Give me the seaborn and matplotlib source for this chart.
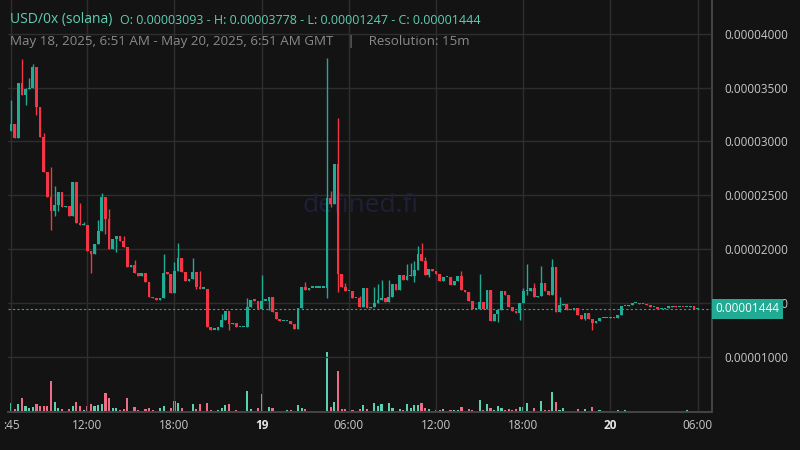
import numpy as np
import pandas as pd
import seaborn as sns
import matplotlib.pyplot as plt
from matplotlib.transforms import blended_transform_factory

# prices in units of 1e-6
first_open = 30.93
closes = [31.6, 30.3, 35.4, 34.3, 34.9, 35.0, 36.9, 33.2, 30.4, 27.2,
          24.8, 23.5, 24.1, 25.3, 23.9, 24.0, 23.1, 26.2, 22.4, 22.2,
          22.2, 19.8, 19.5, 20.5, 21.7, 24.8, 22.8, 20.0, 20.9, 21.2,
          20.7, 20.2, 18.3, 18.5, 17.8, 17.5, 17.8, 16.9, 15.5, 15.4,
          15.3, 15.4, 17.8, 17.7, 15.9, 18.0, 19.2, 17.9, 17.0, 17.2,
          17.9, 16.5, 16.3, 16.3, 12.7, 12.5, 12.5, 12.7, 13.4, 14.2,
          13.0, 13.1, 12.7, 12.7, 12.7, 14.6, 15.3, 15.2, 14.4, 15.2,
          15.2, 15.5, 14.1, 13.5, 13.3, 13.3, 13.3, 13.0, 12.6, 14.5,
          16.5, 16.2, 16.4, 16.4, 16.4, 16.4, 16.4, 24.7, 24.2, 27.9,
          17.7, 16.5, 16.1, 16.1, 15.4, 15.4, 14.6, 16.4, 14.5, 14.6,
          14.95, 15.3, 15.4, 15.1, 15.5, 16.7, 16.2, 17.6, 17.1, 17.5,
          17.5, 18.05, 19.5, 18.9, 17.6, 18.1, 17.99, 17.7, 17.05, 17.4,
          17.4, 16.65, 17.0, 17.5, 16.2, 16.0, 15.2, 14.4, 14.4, 15.1,
          14.4, 16.2, 13.3, 14.0, 14.3, 16.1, 15.7, 14.6, 14.2, 14.05,
          14.95, 16.1, 16.1, 16.4, 15.5, 15.6, 16.8, 16.1, 15.75, 18.3,
          14.1, 14.8, 14.85, 14.3, 14.3, 14.5, 13.9, 13.5, 14.05, 13.5,
          13.15, 13.3, 13.55, 13.55, 13.55, 13.65, 13.55, 13.9, 14.7, 14.7,
          14.8, 14.95, 14.95, 14.85, 14.85, 14.76, 14.6, 14.6, 14.4, 14.4,
          14.55, 14.62, 14.7, 14.6, 14.6, 14.58, 14.58, 14.7, 14.4, 14.44]

# wick extremes (1-based candle number -> price)
highs = {1: 33.9, 4: 37.7, 5: 35.0, 6: 35.9, 7: 37.2, 10: 30.8, 12: 27.6, 13: 25.9,
         20: 24.3, 21: 22.5, 25: 22.7, 26: 25.2, 28: 23.7, 32: 21.2, 35: 19.0,
         43: 19.5, 46: 18.8, 47: 20.6, 51: 19.2, 53: 18.0, 59: 14.0, 66: 15.4,
         70: 17.6, 82: 16.9, 88: 37.78, 89: 25.4, 91: 32.2, 93: 16.8, 97: 15.6,
         101: 16.5, 102: 16.7, 103: 17.1, 105: 17.1, 110: 18.6, 111: 18.7,
         112: 18.9, 113: 20.3, 114: 20.6, 115: 19.3, 125: 18.0, 130: 17.7,
         142: 16.4, 143: 18.6, 145: 16.8, 147: 18.4, 150: 19.1, 152: 15.5}
lows = {5: 33.4, 8: 32.5, 12: 21.8, 13: 23.1, 14: 23.5, 23: 17.8, 27: 21.4,
        30: 19.7, 52: 16.3, 57: 12.47, 61: 12.5, 72: 14.3, 88: 15.4, 89: 23.9,
        91: 16.0, 112: 16.9, 116: 17.4, 135: 13.2, 141: 13.4, 143: 15.7,
        159: 13.4, 161: 12.5}

volumes = [28, 10, 25, 42, 18, 12, 15, 24, 18, 18, 18, 93, 30, 12, 8, 3, 8, 18, 30, 18,
           6, 18, 24, 18, 21, 24, 57, 42, 12, 12, 6, 8, 42, 3, 15, 6, 3, 8, 12, 6,
           3, 12, 18, 3, 12, 33, 27, 12, 3, 3, 24, 9, 24, 3, 27, 6, 3, 6, 12, 21,
           24, 3, 6, 3, 3, 63, 9, 3, 12, 54, 3, 15, 12, 3, 3, 3, 6, 6, 3, 21,
           12, 8, 3, 3, 3, 3, 3, 180, 15, 30, 122, 8, 8, 3,
           6, 2, 8, 21, 9, 3, 27, 18, 24, 3, 27, 12, 3, 9, 6, 24, 12, 21, 21, 27,
           12, 9, 3, 6, 6, 9, 3, 6, 6, 6, 15, 3, 9, 6, 3, 36, 6, 24, 12, 6,
           18, 12, 6, 9, 6, 9, 15, 15, 27, 3, 12, 3, 33, 6, 6, 60, 30, 6, 12, 3,
           3, 3, 9, 3, 9, 3, 15, 3, 6, 3, 3, 3, 3, 6, 3, 6,
           3, 3, 2, 2, 2, 2, 2, 2, 2, 2, 2, 2, 2, 2, 2, 2, 6, 3, 3, 3]

tick_pos = [0, 21, 45, 69, 93, 117, 141, 165, 189]
tick_labels = [':45', '12:00', '18:00', '19', '06:00', '12:00', '18:00', '20', '06:00']
price_ticks = [10, 15, 20, 25, 30, 35, 40]

assert len(closes) == len(volumes) == 190

opens = [first_open] + closes[:-1]
df = pd.DataFrame({'open': opens, 'close': closes, 'volume': volumes})
df['i'] = np.arange(len(df))
df['high'] = [max(highs.get(k + 1, 0), o, c) for k, (o, c) in enumerate(zip(opens, closes))]
df['low'] = [min(lows.get(k + 1, 99), o, c) for k, (o, c) in enumerate(zip(opens, closes))]
df['up'] = df['close'] >= df['open']

BG = '#131313'
GREEN, RED = '#22ab94', '#f23645'
VGREEN, VRED = '#5fcfb1', '#ec6d85'

sns.set_theme(style='dark', rc={'figure.facecolor': BG, 'axes.facecolor': BG})
plt.rcParams['font.family'] = ['Open Sans', 'DejaVu Sans']

fig = plt.figure(figsize=(8, 4.5), dpi=100)
ax = fig.add_axes([8 / 800, 38 / 450, 704 / 800, 412 / 450])
ax2 = ax.twinx()
ax.set_zorder(ax2.get_zorder() + 1)
ax.patch.set_visible(False)
ax2.set_facecolor(BG)

# volume
vcol = [VGREEN if u else VRED for u in df['up']]
ax2.bar(df['i'], df['volume'], width=0.6, color=vcol, linewidth=0)
ax2.set_ylim(0, 180 * 412 / 60)
ax2.set_yticks([])

# candles
col = [GREEN if u else RED for u in df['up']]
ax.vlines(df['i'], df['low'], df['high'], colors=col, linewidth=1)
body = (df['close'] - df['open']).abs().clip(lower=0.12)
ax.bar(df['i'], body, bottom=df[['open', 'close']].min(axis=1), width=0.75,
       color=col, linewidth=0)

ax.set_xlim(-0.83, 192.96)
ax.set_ylim(4.84, 43.16)

for p in price_ticks:
    ax.axhline(p, color='#2e2e2e', linewidth=1, zorder=0)
for t in tick_pos:
    ax.axvline(t, color='#2e2e2e', linewidth=1, zorder=0)

ax.yaxis.tick_right()
ax.set_yticks(price_ticks)
ax.set_yticklabels([f'{p * 1e-6:.8f}' for p in price_ticks], fontsize=8.5, color='#c8c8c8')
ax.set_xticks(tick_pos)
ax.set_xticklabels(tick_labels, fontsize=8.5, color='#c8c8c8')
for lab in ax.get_xticklabels():
    if lab.get_text() in ('19', '20'):
        lab.set_fontweight('bold')
        lab.set_color('#e6e6e6')
ax.tick_params(axis='y', length=0, pad=9)
ax.tick_params(axis='x', length=0, pad=5)
ax.grid(False)
ax2.grid(False)
for a in (ax, ax2):
    for s in a.spines.values():
        s.set_visible(False)
    a.spines['right'].set_visible(True)
    a.spines['right'].set_color('#444444')
    a.spines['bottom'].set_visible(True)
    a.spines['bottom'].set_color('#444444')

# last price line and label
last = closes[-1]
ax.axhline(last, color=GREEN, linewidth=0.8, linestyle=(0, (2, 2)), zorder=1)
tr = blended_transform_factory(ax.transAxes, ax.transData)
ax.text(1.005, last, f'{last * 1e-6:.8f}', transform=tr, va='center', ha='left',
        fontsize=8.5, color='white', clip_on=False, zorder=10,
        bbox=dict(boxstyle='square,pad=0.3', fc=GREEN, ec='none'))

ax.text(0.5, 0.5, 'defined.fi', transform=ax.transAxes, ha='center', va='center',
        fontsize=19, color='#1f1f38', zorder=0)

fig.text(10 / 800, 1 - 20 / 450, 'USD/0x (solana)', fontsize=10, color='#5ecfb1', va='center')
fig.text(120 / 800, 1 - 20 / 450,
         'O: 0.00003093 - H: 0.00003778 - L: 0.00001247 - C: 0.00001444',
         fontsize=9, color='#5ecfb1', va='center')
fig.text(10 / 800, 1 - 41 / 450,
         'May 18, 2025, 6:51 AM - May 20, 2025, 6:51 AM GMT    |    Resolution: 15m',
         fontsize=9.6, color='#8a8a8a', va='center')

fig.savefig('out.png', dpi=100, facecolor=BG)
